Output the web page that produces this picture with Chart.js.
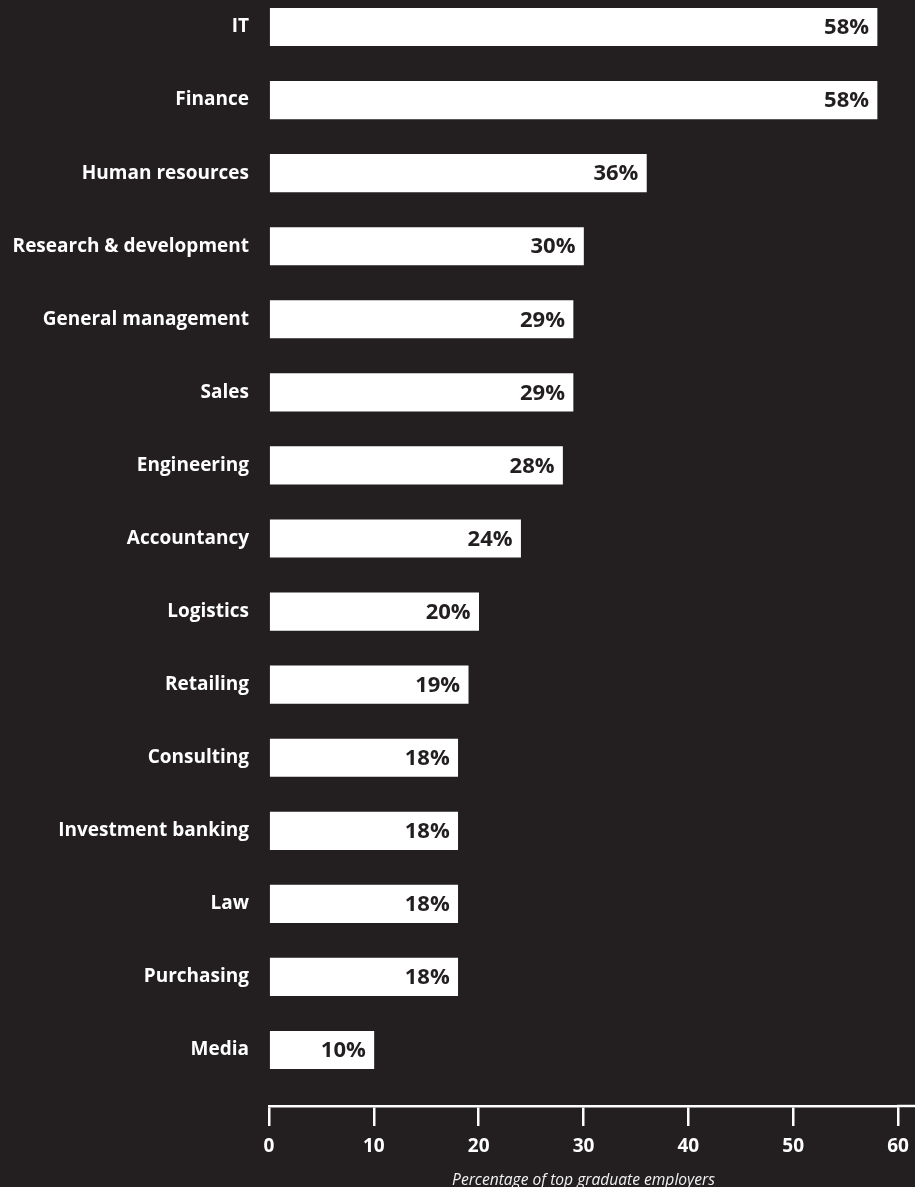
<!DOCTYPE html>
<html>
<head>
<meta charset="utf-8">
<script src="https://cdn.jsdelivr.net/npm/chart.js@4/dist/chart.umd.min.js"></script>
<style>
  html, body { margin: 0; padding: 0; background: #231f20; }
  #wrap { width: 915px; height: 1187px; position: relative; }
</style>
</head>
<body>
<div id="wrap"><canvas id="chart"></canvas></div>
<script>
// Share of top graduate employers recruiting in each area (%)
const categories = [
  'IT', 'Finance', 'Human resources', 'Research & development',
  'General management', 'Sales', 'Engineering', 'Accountancy',
  'Logistics', 'Retailing', 'Consulting', 'Investment banking',
  'Law', 'Purchasing', 'Media'
];
const shares = [58, 58, 36, 30, 29, 29, 28, 24, 20, 19, 18, 18, 18, 18, 10];
const xTickValues = [0, 10, 20, 30, 40, 50, 60];
const axisTitle = 'Percentage of top graduate employers';

const BG = '#231f20';
const FG = '#ffffff';
const FONT = '"Open Sans", "Noto Sans", sans-serif';

// Writes each value inside the right end of its bar
const valueLabels = {
  id: 'valueLabels',
  afterDatasetsDraw(chart) {
    const ctx = chart.ctx;
    const meta = chart.getDatasetMeta(0);
    ctx.save();
    ctx.font = 'bold 22px ' + FONT;
    ctx.fillStyle = BG;
    ctx.textAlign = 'right';
    ctx.textBaseline = 'middle';
    meta.data.forEach((bar, i) => {
      ctx.fillText(shares[i] + '%', bar.x - 8, bar.y + 1);
    });
    ctx.restore();
  }
};

// Carries the x axis rule on to the right edge of the canvas
const axisRuleExtension = {
  id: 'axisRuleExtension',
  afterDraw(chart) {
    const x = chart.scales.x;
    const ctx = chart.ctx;
    ctx.save();
    ctx.strokeStyle = FG;
    ctx.lineWidth = 2.5;
    ctx.beginPath();
    ctx.moveTo(chart.chartArea.right - 1, x.top);
    ctx.lineTo(chart.width, x.top);
    ctx.stroke();
    ctx.restore();
  }
};

new Chart(document.getElementById('chart'), {
  type: 'bar',
  data: {
    datasets: [{
      data: shares.map((v, i) => ({ x: v, y: i })),
      backgroundColor: FG,
      borderWidth: 0,
      barThickness: 37.5,
      clip: false
    }]
  },
  plugins: [valueLabels, axisRuleExtension],
  options: {
    indexAxis: 'y',
    responsive: true,
    maintainAspectRatio: false,
    animation: false,
    devicePixelRatio: 1,
    layout: { padding: { top: 0, right: 17, bottom: 0, left: 0 } },
    plugins: {
      legend: { display: false },
      tooltip: { enabled: false }
    },
    scales: {
      y: {
        type: 'linear',
        reverse: true,
        offset: false,
        bounds: 'data',
        min: -0.3695,
        max: 14.766,
        grid: { display: false, drawTicks: false, offset: false },
        border: { display: false },
        afterBuildTicks(scale) {
          scale.ticks = categories.map((_, i) => ({ value: i }));
        },
        afterFit(scale) {
          scale.width = 269;
          scale.paddingTop = 0;
          scale.paddingBottom = 0;
        },
        ticks: {
          color: FG,
          padding: 20,
          font: { family: FONT, size: 19, weight: 'bold' },
          callback: (v) => categories[v]
        }
      },
      x: {
        type: 'linear',
        min: 0,
        max: 60,
        offset: false,
        afterBuildTicks(scale) {
          scale.ticks = xTickValues.map(v => ({ value: v }));
        },
        afterFit(scale) {
          scale.height = 81;
          scale.paddingLeft = 0;
          scale.paddingRight = 0;
        },
        grid: {
          drawOnChartArea: false,
          drawTicks: true,
          tickLength: 20,
          color: FG,
          lineWidth: 2.5
        },
        border: { display: true, color: FG, width: 2.5 },
        ticks: {
          color: FG,
          padding: 9,
          maxRotation: 0,
          font: { family: FONT, size: 19, weight: 'bold' }
        },
        title: {
          display: true,
          text: axisTitle,
          color: '#f2f2f2',
          padding: 0,
          font: { family: FONT, size: 15.6, style: 'italic', lineHeight: 0.8 }
        }
      }
    }
  }
});
</script>
</body>
</html>
